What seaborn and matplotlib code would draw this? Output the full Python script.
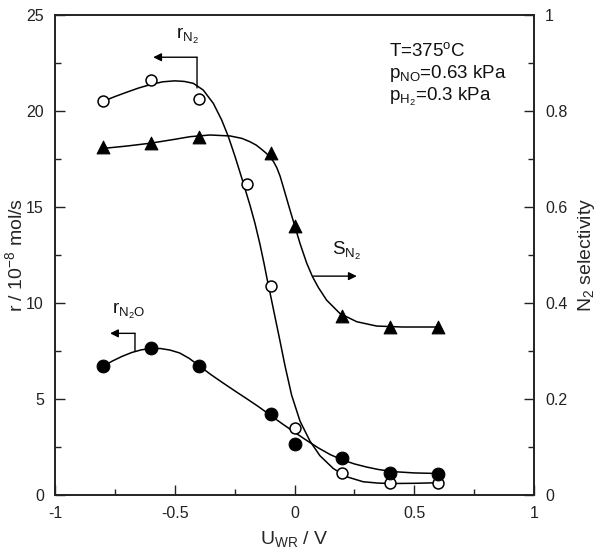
import matplotlib
matplotlib.use("Agg")

import matplotlib.pyplot as plt
import seaborn as sns

# measured points
u_n2 = [-0.8, -0.6, -0.4, -0.2, -0.1, 0.0, 0.2, 0.4, 0.6]
r_n2 = [20.5, 21.6, 20.6, 16.2, 10.9, 3.5, 1.15, 0.6, 0.6]

u_n2o = [-0.8, -0.6, -0.4, -0.1, 0.0, 0.2, 0.4, 0.6]
r_n2o = [6.7, 7.65, 6.7, 4.2, 2.65, 1.95, 1.15, 1.1]

u_sel = [-0.8, -0.6, -0.4, -0.1, 0.0, 0.2, 0.4, 0.6]
s_n2 = [0.725, 0.733, 0.745, 0.712, 0.56, 0.373, 0.349, 0.349]

# fitted guide curves
fit_u_n2 = [-0.8, -0.75, -0.7, -0.65, -0.6, -0.55, -0.5, -0.46, -0.4225, -0.381,
            -0.339, -0.304, -0.276, -0.248, -0.22, -0.186, -0.165, -0.144, -0.127,
            -0.116, -0.1, -0.081, -0.061, -0.04, -0.012, 0.023, 0.065, 0.106,
            0.162, 0.218, 0.287, 0.35, 0.41, 0.5, 0.6]
fit_r_n2 = [20.5, 20.75, 20.98, 21.2, 21.38, 21.52, 21.57, 21.54, 21.44, 21.09,
            20.4, 19.53, 18.66, 17.62, 16.5, 15.1, 14.15, 13.05, 12.05,
            11.35, 10.4, 9.25, 8.05, 6.75, 5.2, 3.85, 2.8, 2.05,
            1.38, 0.95, 0.69, 0.62, 0.6, 0.61, 0.64]

fit_u_n2o = [-0.8, -0.76, -0.72, -0.68, -0.64, -0.6, -0.56, -0.52, -0.48, -0.44,
             -0.4, -0.35, -0.3, -0.25, -0.2, -0.15, -0.1, -0.05, 0.0, 0.05,
             0.1, 0.15, 0.2, 0.25, 0.3, 0.35, 0.41, 0.5, 0.6]
fit_r_n2o = [6.7, 6.98, 7.22, 7.42, 7.56, 7.63, 7.63, 7.55, 7.4, 7.12,
             6.75, 6.28, 5.85, 5.43, 5.02, 4.6, 4.15, 3.7, 3.27, 2.85,
             2.45, 2.1, 1.83, 1.62, 1.46, 1.33, 1.22, 1.15, 1.12]

fit_u_sel = [-0.8, -0.7, -0.6, -0.5, -0.436, -0.353, -0.269, -0.22, -0.186, -0.16,
             -0.137, -0.118, -0.1, -0.087, -0.074, -0.06, -0.047, -0.033, -0.019, 0.0,
             0.023, 0.051, 0.075, 0.1, 0.134, 0.19, 0.26, 0.343, 0.45, 0.6]
fit_s_n2 = [0.722, 0.727, 0.733, 0.741, 0.7465, 0.75, 0.748, 0.743, 0.736, 0.729,
            0.72, 0.712, 0.703, 0.694, 0.682, 0.664, 0.642, 0.618, 0.594, 0.5625,
            0.524, 0.483, 0.455, 0.432, 0.406, 0.378, 0.361, 0.352, 0.35, 0.35]

x_ticks = [-1, -0.5, 0, 0.5, 1]
x_tick_labels = ["-1", "-0.5", "0", "0.5", "1"]
y_ticks = [0, 5, 10, 15, 20, 25]
y2_ticks = [0, 0.2, 0.4, 0.6, 0.8, 1]
y2_tick_labels = ["0", "0.2", "0.4", "0.6", "0.8", "1"]

sns.set_style("ticks")
plt.rcParams["font.family"] = ["Liberation Sans", "DejaVu Sans"]
plt.rcParams["mathtext.fontset"] = "custom"
plt.rcParams["mathtext.rm"] = "Liberation Sans"
plt.rcParams["mathtext.it"] = "Liberation Sans:italic"
plt.rcParams["axes.unicode_minus"] = False

fig = plt.figure(figsize=(5.97, 5.51), dpi=100)
ax = fig.add_axes([0.0921, 0.1016, 0.8024, 0.8712])
ax2 = ax.twinx()

lw = 1.1
# curves
sns.lineplot(x=fit_u_n2, y=fit_r_n2, ax=ax, color="black", lw=lw, sort=False)
sns.lineplot(x=fit_u_n2o, y=fit_r_n2o, ax=ax, color="black", lw=lw, sort=False)
sns.lineplot(x=fit_u_sel, y=fit_s_n2, ax=ax2, color="black", lw=lw, sort=False)

# markers
sns.scatterplot(x=u_n2, y=r_n2, ax=ax, marker="o", s=62, facecolor="white",
                edgecolor="black", linewidth=1.1, zorder=3)
sns.scatterplot(x=u_n2o, y=r_n2o, ax=ax, marker="o", s=85, color="black",
                edgecolor="black", zorder=3)
sns.scatterplot(x=u_sel, y=s_n2, ax=ax2, marker="^", s=85, color="black",
                edgecolor="black", zorder=3)

ax.set_xlim(-1, 1)
ax.set_ylim(0, 25)
ax2.set_ylim(0, 1)

ax.set_xticks(x_ticks)
ax.set_xticklabels(x_tick_labels)
ax.set_xticks([-0.75, -0.25, 0.25, 0.75], minor=True)
ax.set_yticks(y_ticks)
ax.set_yticklabels([str(v) for v in y_ticks])
ax.set_yticks([2.5, 7.5, 12.5, 17.5, 22.5], minor=True)
ax2.set_yticks(y2_ticks)
ax2.set_yticklabels(y2_tick_labels)
ax2.set_yticks([0.1, 0.3, 0.5, 0.7, 0.9], minor=True)

for a in (ax, ax2):
    a.tick_params(which="major", direction="in", length=7, width=1.0,
                  labelsize=11.5, color="#222222", labelcolor="#222222")
    a.tick_params(which="minor", direction="in", length=4, width=1.0,
                  color="#222222")
    for sp in a.spines.values():
        sp.set_linewidth(1.2)
        sp.set_color("#222222")
ax.tick_params(axis="both", pad=8)
ax2.tick_params(axis="y", pad=8)

ax.set_xlabel("U$_{\\mathrm{WR}}$ / V", fontsize=14, labelpad=6)
ax.set_ylabel("r / 10$^{\\mathrm{-8}}$ mol/s", fontsize=14, labelpad=0)
ax2.set_ylabel("N$_{\\mathrm{2}}$ selectivity", fontsize=14, labelpad=6)

# condition labels
tkw = dict(fontsize=13.5, ha="left", va="center", color="#111111")
ax.text(0.395, 23.1, "T=375$^{\\mathrm{o}}$C", **tkw)
ax.text(0.395, 21.95, "p$_{\\mathrm{NO}}$=0.63 kPa", **tkw)
ax.text(0.395, 20.75, "p$_{\\mathrm{H_2}}$=0.3 kPa", **tkw)

# series labels with arrows
arr = dict(arrowstyle="-|>", color="black", lw=1.0, mutation_scale=12,
           shrinkA=0, shrinkB=0)
seg = dict(arrowstyle="-", color="black", lw=1.0, shrinkA=0, shrinkB=0)

ax.text(-0.495, 23.9, "r$_{\\mathrm{N_2}}$", **tkw)
ax.annotate("", xy=(-0.407, 21.2), xytext=(-0.407, 22.8), arrowprops=seg)
ax.annotate("", xy=(-0.59, 22.8), xytext=(-0.407, 22.8), arrowprops=arr)

ax.text(-0.76, 9.6, "r$_{\\mathrm{N_2O}}$", **tkw)
ax.annotate("", xy=(-0.666, 7.5), xytext=(-0.666, 8.42), arrowprops=seg)
ax.annotate("", xy=(-0.77, 8.42), xytext=(-0.666, 8.42), arrowprops=arr)

ax.text(0.155, 12.7, "S$_{\\mathrm{N_2}}$", **tkw)
ax.annotate("", xy=(0.26, 11.4), xytext=(0.079, 11.4), arrowprops=arr)

fig.savefig("out.png", dpi=100)
plt.close(fig)
